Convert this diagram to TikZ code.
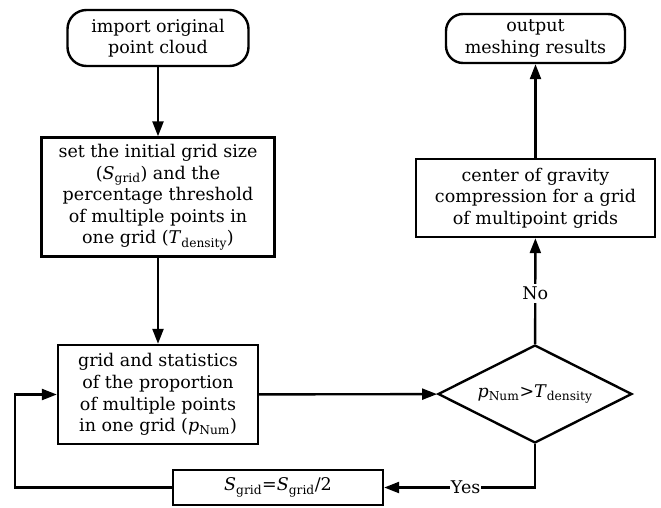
\documentclass[tikz,border=0pt]{standalone}
\usepackage{fontspec}
\setmainfont{DejaVu Serif}
\usetikzlibrary{shapes.geometric,arrows.meta}

\newcommand{\sub}[2]{\textit{#1}\textsubscript{#2}}

\begin{document}
\begin{tikzpicture}[x=1pt,y=-1pt,
    every node/.style={font=\fontsize{17.5}{21.6}\selectfont,align=center,inner sep=0pt},
    term/.style={draw,line width=2.4pt,rounded corners=19pt},
    proc/.style={draw,line width=2.4pt},
    decide/.style={draw,line width=2.4pt,diamond,aspect=2},
    flow/.style={line width=2.4pt,-{Triangle[length=15pt,width=11pt]}}]
    \useasboundingbox (0,0) rectangle (661,507);
    % nodes
    \node[term,minimum width=181pt,minimum height=56pt] (start) at (158,38) {import original\\point cloud};
    \node[proc,minimum width=233pt,minimum height=119pt] (init) at (158,197)
        {set the initial grid size\\(\sub{S}{grid}) and the\\percentage threshold\\of multiple points in\\one grid (\sub{T}{density})};
    \node[proc,minimum width=200pt,minimum height=99pt] (stat) at (158,394.5)
        {grid and statistics\\of the proportion\\of multiple points\\in one grid (\sub{p}{Num})};
    \node[decide,minimum width=194pt,minimum height=98pt] (test) at (535,394) {\sub{p}{Num}>\sub{T}{density}};
    \node[proc,minimum width=239pt,minimum height=78pt] (press) at (535.5,198)
        {center of gravity\\compression for a grid\\of multipoint grids};
    \node[term,minimum width=179pt,minimum height=49pt,rounded corners=17pt] (out) at (535.5,38.5) {output\\meshing results};
    \node[proc,minimum width=210pt,minimum height=35pt] (half) at (278,487.5) {\sub{S}{grid}=\sub{S}{grid}/2};
    \coordinate (back) at (15,487.5);
    % connectors
    \draw[flow] (start) -- (init);
    \draw[flow] (init) -- (stat);
    \draw[flow] (stat) -- (test);
    \draw[flow] (test) -- node[fill=white,inner ysep=3pt,inner xsep=1pt,pos=0.48] {No} (press);
    \draw[flow] (press) -- (out);
    \draw[flow] (test.south) |- node[fill=white,inner xsep=1pt,pos=0.73] {Yes} (half);
    \draw[flow] (half) -- (back) |- (stat);
\end{tikzpicture}
\end{document}
